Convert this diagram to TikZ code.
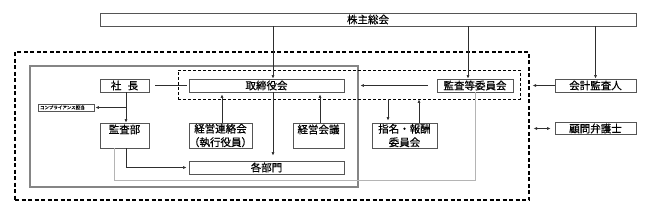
\documentclass[tikz,border=0pt]{standalone}
\usepackage{fontspec}
\usepackage{xcolor}
\usetikzlibrary{arrows.meta}
\newfontfamily\jpfont[FakeBold=0.6]{Noto Sans CJK JP}
\definecolor{BoxLine}{HTML}{555555}
\definecolor{LinkGray}{HTML}{2E2E2E}
\definecolor{FaintGray}{HTML}{B4B4B4}
\definecolor{FrameGray}{HTML}{858585}

\begin{document}
\begin{tikzpicture}[x=1pt, y=-1pt,
    org/.style={draw=BoxLine, line width=0.8pt, inner sep=0pt, minimum height=13pt,
      font=\fontsize{10.5}{13.5}\selectfont\jpfont, align=center},
    tall/.style={minimum height=25pt, text depth=13pt},
    outerdash/.style={draw=black, line width=1.2pt, dash pattern=on 4pt off 2.5pt, inner sep=0pt},
    boarddash/.style={draw=black, line width=0.9pt, dash pattern=on 3pt off 2pt, inner sep=0pt},
    innerframe/.style={draw=FrameGray, line width=1.1pt, inner sep=0pt},
    arrow/.style={-{Latex[length=3.5pt,width=3pt]}, draw=LinkGray, line width=0.6pt},
    dblarrow/.style={{Latex[length=3.5pt,width=3pt]}-{Latex[length=3.5pt,width=3pt]}, draw=LinkGray, line width=0.6pt},
    link/.style={draw=LinkGray, line width=0.6pt},
    faint/.style={draw=FaintGray, line width=0.7pt}
  ]
    \useasboundingbox (0,0) rectangle (645,214);
    % frames
    \node[outerdash, minimum width=514pt, minimum height=148pt] (outer) at (272,126) {};
    \node[innerframe, minimum width=328pt, minimum height=121pt] (inner) at (194,126.5) {};
    \node[boarddash, minimum width=342pt, minimum height=29pt] (board) at (349,84.5) {};
    % boxes
    \node[org, minimum width=536pt] (agm) at (368,19.5) {株主総会};
    \node[org, minimum width=49pt] (pres) at (124.5,85.5) {社\hspace{0.6em}長};
    \node[org, minimum width=155pt] (bod) at (266.5,85.5) {取締役会};
    \node[org, minimum width=76pt] (ac) at (475,85.5) {監査等委員会};
    \node[org, minimum width=81pt] (auditor) at (595.5,85.5) {会計監査人};
    \node[org, minimum width=56pt, minimum height=7pt, text width=54pt, align=left,
      font=\fontsize{4.5}{5}\selectfont\jpfont] (comp) at (66,107.5) {\hspace{1pt}コンプライアンス担当};
    \node[org, tall, minimum width=49pt] (audit) at (124.5,135.5) {監査部};
    \node[org, minimum width=63pt, minimum height=25pt] (exec) at (220.5,135.5) {経営連絡会\\（執行役員）};
    \node[org, tall, minimum width=51pt] (mgmt) at (318.5,135.5) {経営会議};
    \node[org, minimum width=65pt, minimum height=25pt] (nom) at (404.5,135.5) {指名・報酬\\委員会};
    \node[org, minimum width=155pt] (depts) at (266.5,167.5) {各部門};
    \node[org, minimum width=81pt, minimum height=12pt] (lawyer) at (595.5,128.5) {顧問弁護士};
    % connectors
    \draw[arrow] ([xshift=6.5pt]bod.north |- agm.south) -- ([xshift=6.5pt]bod.north);
    \draw[arrow] ([xshift=-7pt]ac.north |- agm.south) -- ([xshift=-7pt]ac.north);
    \draw[arrow] (auditor.north |- agm.south) -- (auditor.north);
    \draw[link, shorten <=6pt, shorten >=2pt] (pres.east) -- (bod.west);
    \draw[arrow, shorten <=9pt, shorten >=16pt] (ac.west) -- (bod.east);
    \draw[arrow, shorten >=3pt] (auditor.west) -- (auditor.west -| outer.east);
    \draw[dblarrow, shorten <=4pt, shorten >=4pt] (lawyer.west) -- (lawyer.west -| outer.east);
    \draw[arrow] ([xshift=1.5pt]pres.south) -- ([xshift=1.5pt]audit.north);
    \coordinate (compjoin) at ([xshift=1.5pt]pres.south |- comp.east);
    \draw[arrow, shorten >=1pt] (compjoin) -- (comp.east);
    \draw[arrow, shorten >=2pt] ([xshift=2pt]audit.south) |- (depts.west);
    \draw[faint] ([xshift=-10pt]audit.south) -- ++(0,32) -| (ac.south);
    \draw[arrow, shorten >=2pt] ([xshift=1.5pt]exec.north) -- ([xshift=1.5pt]exec.north |- bod.south);
    \draw[arrow, shorten >=2pt] ([xshift=1.5pt]mgmt.north) -- ([xshift=1.5pt]mgmt.north |- bod.south);
    \draw[arrow, shorten >=5pt] ([xshift=6.5pt]bod.south) -- ([xshift=6.5pt]depts.north);
    \draw[arrow, shorten >=2pt] ([xshift=-16.5pt]nom.north |- board.south) -- ([xshift=-16.5pt]nom.north);
    \draw[arrow] ([xshift=14.5pt]nom.north) -- ([xshift=14.5pt]nom.north |- board.south);
\end{tikzpicture}
\end{document}
